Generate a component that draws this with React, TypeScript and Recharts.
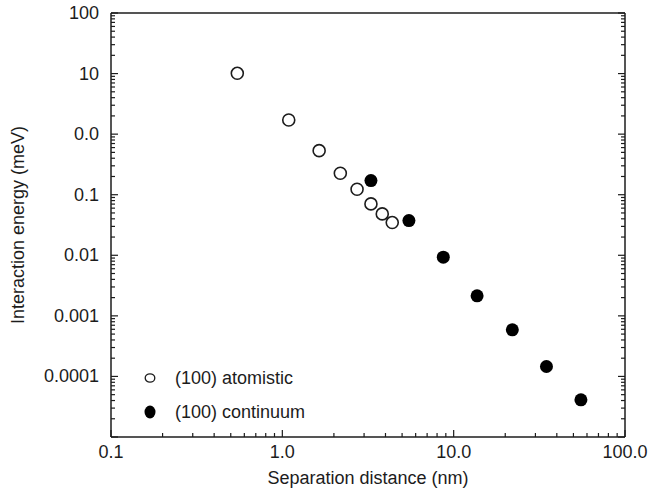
import { Legend, Scatter, ScatterChart, XAxis, YAxis, Label } from 'recharts';

// separation distance (nm) vs interaction energy (meV)
const atomisticX = [0.546, 1.09, 1.64, 2.18, 2.73, 3.29, 3.83, 4.38];
const atomisticY = [10.1, 1.71, 0.534, 0.226, 0.123, 0.0705, 0.0482, 0.0347];
const continuumX = [3.29, 5.48, 8.7, 13.7, 22.0, 34.8, 55.3];
const continuumY = [0.171, 0.0374, 0.0093, 0.00214, 0.000588, 0.000146, 0.0000411];

const xMajors = [0.1, 1, 10, 100];
const xLabels = ['0.1', '1.0', '10.0', '100.0'];
const yMajors = [0.00001, 0.0001, 0.001, 0.01, 0.1, 1, 10, 100];
const yLabels = ['', '0.0001', '0.001', '0.01', '0.1', '0.0', '10', '100'];

const INK = '#1c1c1c';
const FONT = '"Liberation Sans", Arial, sans-serif';
const FS = 18;

const withMinors = (majors: number[]) => {
  const out: number[] = [];
  majors.forEach((m, i) => {
    out.push(m);
    if (i < majors.length - 1) for (let k = 2; k <= 9; k++) out.push(+(m * k).toPrecision(6));
  });
  return out;
};
const xTicks = withMinors(xMajors);
const yTicks = withMinors(yMajors);

const atomistic = atomisticX.map((x, i) => ({ x, y: atomisticY[i] }));
const continuum = continuumX.map((x, i) => ({ x, y: continuumY[i] }));

const MAJOR = 7;
const MINOR = 4;

function BottomTick({ x, y, payload }: any) {
  const i = xMajors.indexOf(payload.value);
  return (
    <g>
      <line x1={x} x2={x} y1={y} y2={y - (i >= 0 ? MAJOR : MINOR)} stroke={INK} strokeWidth={1.2} />
      {i >= 0 && (
        <text x={x} y={y + 21} textAnchor="middle" fontSize={FS} fill={INK} fontFamily={FONT}>{xLabels[i]}</text>
      )}
    </g>
  );
}

function TopTick({ x, y, payload }: any) {
  const major = xMajors.includes(payload.value);
  return <line x1={x} x2={x} y1={y} y2={y + (major ? MAJOR : MINOR)} stroke={INK} strokeWidth={1.2} />;
}

function LeftTick({ x, y, payload }: any) {
  const i = yMajors.indexOf(payload.value);
  return (
    <g>
      <line x1={x} x2={x + (i >= 0 ? MAJOR : MINOR)} y1={y} y2={y} stroke={INK} strokeWidth={1.2} />
      {i >= 0 && yLabels[i] && (
        <text x={x - 12} y={y + 6} textAnchor="end" fontSize={FS} fill={INK} fontFamily={FONT}>{yLabels[i]}</text>
      )}
    </g>
  );
}

function RightTick({ x, y, payload }: any) {
  const major = yMajors.includes(payload.value);
  return <line x1={x} x2={x - (major ? MAJOR : MINOR)} y1={y} y2={y} stroke={INK} strokeWidth={1.2} />;
}

const OpenDot = (p: any) => <circle cx={p.cx} cy={p.cy} r={6} fill="#fff" stroke={INK} strokeWidth={1.6} />;
const FilledDot = (p: any) => <circle cx={p.cx} cy={p.cy} r={6.5} fill="#000" />;

function LegendBox() {
  const rows = [
    { name: '(100) atomistic', open: true },
    { name: '(100) continuum', open: false },
  ];
  return (
    <div style={{ fontFamily: FONT, fontSize: FS, color: INK }}>
      {rows.map((r) => (
        <div key={r.name} style={{ display: 'flex', alignItems: 'center', height: 34 }}>
          <svg width={20} height={16} style={{ marginRight: 15 }}>
            {r.open ? (
              <ellipse cx={10} cy={8} rx={4.8} ry={4.2} fill="#fff" stroke={INK} strokeWidth={1.3} />
            ) : (
              <ellipse cx={10} cy={8} rx={5.5} ry={6.5} fill="#000" />
            )}
          </svg>
          <span>{r.name}</span>
        </div>
      ))}
    </div>
  );
}

export default function App() {
  const axisStroke = { stroke: INK, strokeWidth: 1.5 };
  return (
    <div style={{ position: 'absolute', left: 0, top: 0, background: '#fff' }}>
      <ScatterChart width={649} height={491} margin={{ top: 12, right: 23, bottom: 0, left: 0 }}>
        <XAxis
          xAxisId="b"
          dataKey="x"
          type="number"
          scale="log"
          domain={[0.1, 100]}
          allowDataOverflow
          ticks={xTicks}
          interval={0}
          tickSize={0}
          tickMargin={0}
          height={54}
          axisLine={axisStroke}
          tickLine={false}
          tick={<BottomTick />}
        >
          <Label
            content={({ viewBox }: any) => (
              <text x={viewBox.x + viewBox.width / 2} y={484} textAnchor="middle" fontSize={FS} fill={INK} fontFamily={FONT}>
                Separation distance (nm)
              </text>
            )}
          />
        </XAxis>
        <XAxis
          xAxisId="t"
          orientation="top"
          type="number"
          scale="log"
          domain={[0.1, 100]}
          allowDataOverflow
          ticks={xTicks}
          interval={0}
          tickSize={0}
          tickMargin={0}
          height={1}
          axisLine={axisStroke}
          tickLine={false}
          tick={<TopTick />}
        />
        <YAxis
          yAxisId="l"
          dataKey="y"
          type="number"
          scale="log"
          domain={[0.00001, 100]}
          allowDataOverflow
          ticks={yTicks}
          interval={0}
          tickSize={0}
          tickMargin={0}
          width={111}
          axisLine={axisStroke}
          tickLine={false}
          tick={<LeftTick />}
        >
          <Label
            content={({ viewBox }: any) => {
              const cy = viewBox.y + viewBox.height / 2;
              return (
                <text x={24} y={cy} transform={`rotate(-90 24 ${cy})`} textAnchor="middle" fontSize={FS} fill={INK} fontFamily={FONT}>
                  Interaction energy (meV)
                </text>
              );
            }}
          />
        </YAxis>
        <YAxis
          yAxisId="r"
          orientation="right"
          type="number"
          scale="log"
          domain={[0.00001, 100]}
          allowDataOverflow
          ticks={yTicks}
          interval={0}
          tickSize={0}
          tickMargin={0}
          width={1}
          axisLine={axisStroke}
          tickLine={false}
          tick={<RightTick />}
        />
        <Legend
          layout="vertical"
          align="center"
          verticalAlign="middle"
          content={<LegendBox />}
          wrapperStyle={{ left: 140, top: 361, width: 220, height: 70 }}
        />
        <Scatter name="(100) atomistic" data={atomistic} xAxisId="b" yAxisId="l" shape={OpenDot} isAnimationActive={false} />
        <Scatter name="(100) continuum" data={continuum} xAxisId="b" yAxisId="l" shape={FilledDot} isAnimationActive={false} />
      </ScatterChart>
    </div>
  );
}
